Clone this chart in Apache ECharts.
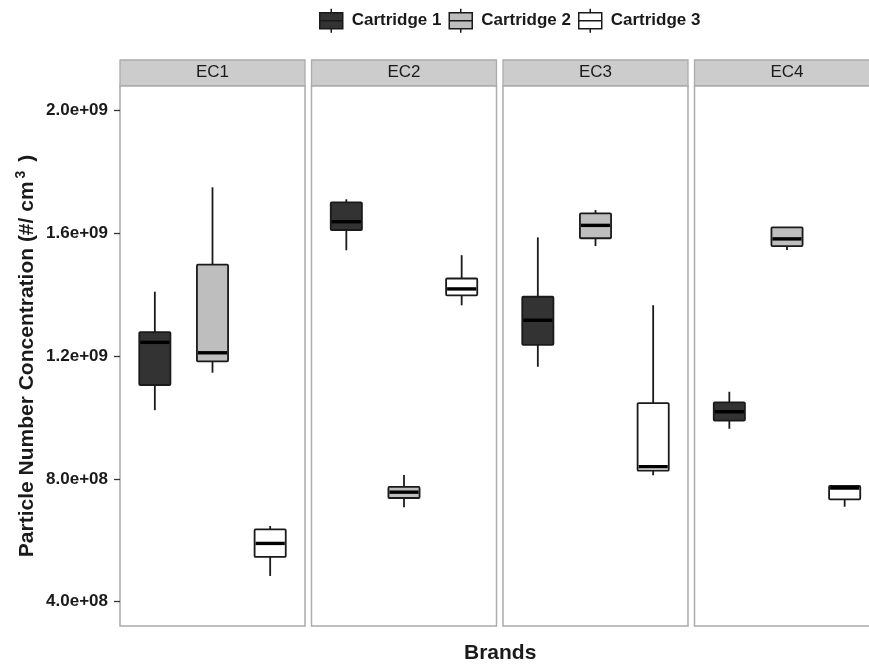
<!DOCTYPE html>
<html><head><meta charset="utf-8">
<script src="https://cdn.jsdelivr.net/npm/echarts@6/dist/echarts.min.js"></script>
<style>html,body{margin:0;padding:0;background:#fff}#c{width:869px;height:670px}</style>
</head><body><div id="c"></div>
<script>
// ---- data ----
const brands = ['EC1', 'EC2', 'EC3', 'EC4'];
const cartridges = ['Cartridge 1', 'Cartridge 2', 'Cartridge 3'];
// [min, Q1, median, Q3, max] for each brand (EC1..EC4)
const cartridge1 = [
  [1.024e9, 1.106e9, 1.245e9, 1.2785e9, 1.410e9],
  [1.545e9, 1.611e9, 1.638e9, 1.701e9, 1.711e9],
  [1.1655e9, 1.237e9, 1.317e9, 1.3935e9, 1.587e9],
  [0.9635e9, 0.990e9, 1.019e9, 1.0495e9, 1.084e9]
];
const cartridge2 = [
  [1.146e9, 1.183e9, 1.211e9, 1.498e9, 1.750e9],
  [0.7075e9, 0.738e9, 0.757e9, 0.774e9, 0.813e9],
  [1.5586e9, 1.584e9, 1.626e9, 1.665e9, 1.676e9],
  [1.5456e9, 1.5586e9, 1.582e9, 1.6195e9, 1.6195e9]
];
const cartridge3 = [
  [0.484e9, 0.546e9, 0.590e9, 0.636e9, 0.6466e9],
  [1.3655e9, 1.398e9, 1.419e9, 1.453e9, 1.529e9],
  [0.812e9, 0.827e9, 0.840e9, 1.047e9, 1.366e9],
  [0.7095e9, 0.7335e9, 0.7704e9, 0.777e9, 0.777e9]
];
const yTickValues = [4e8, 8e8, 1.2e9, 1.6e9, 2.0e9];
const yTickLabels = ['4.0e+08', '8.0e+08', '1.2e+09', '1.6e+09', '2.0e+09'];
const yMin = 3.21e8, yMax = 2.08e9;

// ---- styles / layout ----
const seriesValues = [cartridge1, cartridge2, cartridge3];
const fills = ['#333333', '#bebebe', '#ffffff'];
const edge = '#1a1a1a';
const panelBorder = '#ababab';
const panelLeft = [120, 311.5, 503, 694.5];
const panelW = 185;
const plotTop = 86, plotH = 540, stripTop = 60, stripH = 26, dataInset = 6, dataW = 173;
const FONT = 'Liberation Sans, Arial, Helvetica, sans-serif';

function renderBox(params, api) {
  const x = api.value(0);
  const pMin = api.coord([x, api.value(1)]);
  const pQ1 = api.coord([x, api.value(2)]);
  const pMed = api.coord([x, api.value(3)]);
  const pQ3 = api.coord([x, api.value(4)]);
  const pMax = api.coord([x, api.value(5)]);
  const half = api.size([1, 0])[0] * 0.27;
  const cx = pMed[0];
  const fill = api.visual('color');
  return {
    type: 'group',
    children: [
      { type: 'line', shape: { x1: cx, y1: pMax[1], x2: cx, y2: pQ3[1] }, style: { stroke: edge, lineWidth: 1.8 } },
      { type: 'line', shape: { x1: cx, y1: pQ1[1], x2: cx, y2: pMin[1] }, style: { stroke: edge, lineWidth: 1.8 } },
      { type: 'rect', shape: { x: cx - half, y: pQ3[1], width: half * 2, height: pQ1[1] - pQ3[1], r: 1 }, style: { fill: fill, stroke: edge, lineWidth: 1.8 } },
      { type: 'line', shape: { x1: cx - half + 1, y1: pMed[1], x2: cx + half - 1, y2: pMed[1] }, style: { stroke: '#000', lineWidth: 3.4 } }
    ]
  };
}

const grids = [], xAxes = [], yAxes = [], series = [];
brands.forEach(function (b, i) {
  const L = panelLeft[i];
  // strip
  grids.push({ left: L, top: stripTop, width: panelW, height: stripH, show: true, backgroundColor: '#cccccc', borderColor: panelBorder, borderWidth: 1.3, outerBoundsMode: 'none', containLabel: false });
  xAxes.push({ type: 'category', gridIndex: 3 * i, data: [b], axisLine: { show: false }, axisTick: { show: false }, splitLine: { show: false },
    axisLabel: { inside: true, margin: 5, fontSize: 17, color: '#1a1a1a', fontFamily: FONT } });
  yAxes.push({ type: 'value', gridIndex: 3 * i, show: false, splitLine: { show: false } });
  // frame
  grids.push({ left: L, top: plotTop, width: panelW, height: plotH, show: true, backgroundColor: '#ffffff', borderColor: panelBorder, borderWidth: 1.5, outerBoundsMode: 'none', containLabel: false });
  xAxes.push({ type: 'category', gridIndex: 3 * i + 1, data: [b], show: false });
  const fy = { type: 'value', gridIndex: 3 * i + 1, min: yMin, max: yMax, splitLine: { show: false } };
  if (i === 0) {
    Object.assign(fy, {
      axisLine: { show: false },
      axisTick: { show: true, length: 6, customValues: yTickValues, lineStyle: { color: '#333', width: 1.3 } },
      axisLabel: { show: true, customValues: yTickValues, margin: 12, fontSize: 17, fontWeight: 'bold', color: '#1a1a1a', fontFamily: FONT,
        formatter: function (v) {
          for (let k = 0; k < yTickValues.length; k++) if (Math.abs(yTickValues[k] - v) < 1e3) return yTickLabels[k];
          return '';
        } },
      name: '{t|Particle Number Concentration (#/ cm}{s|3}{t| )}',
      nameLocation: 'middle',
      nameGap: 80,
      nameTextStyle: {
        rich: {
          t: { fontSize: 21, fontWeight: 'bold', color: '#1a1a1a', fontFamily: FONT, lineHeight: 26 },
          s: { fontSize: 14, fontWeight: 'bold', color: '#1a1a1a', fontFamily: FONT, lineHeight: 12, verticalAlign: 'top', padding: [0, 3, 6, 3] }
        }
      }
    });
  } else {
    fy.show = false;
  }
  yAxes.push(fy);
  // data
  grids.push({ left: L + dataInset, top: plotTop, width: dataW, height: plotH, show: false, outerBoundsMode: 'none', containLabel: false });
  xAxes.push({ type: 'category', gridIndex: 3 * i + 2, data: cartridges, show: false });
  yAxes.push({ type: 'value', gridIndex: 3 * i + 2, min: yMin, max: yMax, show: false, splitLine: { show: false } });
  cartridges.forEach(function (c, j) {
    series.push({
      type: 'custom', name: c, xAxisIndex: 3 * i + 2, yAxisIndex: 3 * i + 2,
      itemStyle: { color: fills[j] },
      encode: { x: 0, y: [1, 2, 3, 4, 5] },
      data: [[j].concat(seriesValues[j][i])],
      renderItem: renderBox
    });
  });
});

const iconPath = 'path://M0,4L23,4L23,20L0,20Z M11.5,0L11.5,4 M11.5,20L11.5,24 M0,12L23,12';

const option = {
  animation: false,
  backgroundColor: '#ffffff',
  textStyle: { fontFamily: FONT },
  title: { text: 'Brands', left: 464, top: 643, padding: 0, textStyle: { fontSize: 21, fontWeight: 'bold', color: '#1a1a1a', fontFamily: FONT } },
  legend: {
    left: 314, top: 3, itemWidth: 23, itemHeight: 24, itemGap: 7,
    textStyle: { fontSize: 17, fontWeight: 'bold', color: '#1a1a1a', fontFamily: FONT, padding: [0, 0, 0, 4] },
    data: cartridges.map(function (n, j) {
      return { name: n, icon: iconPath, itemStyle: { color: fills[j], borderColor: edge, borderWidth: 1.5 } };
    })
  },
  grid: grids,
  xAxis: xAxes,
  yAxis: yAxes,
  series: series
};
echarts.init(document.getElementById('c')).setOption(option);
</script>
</body></html>
